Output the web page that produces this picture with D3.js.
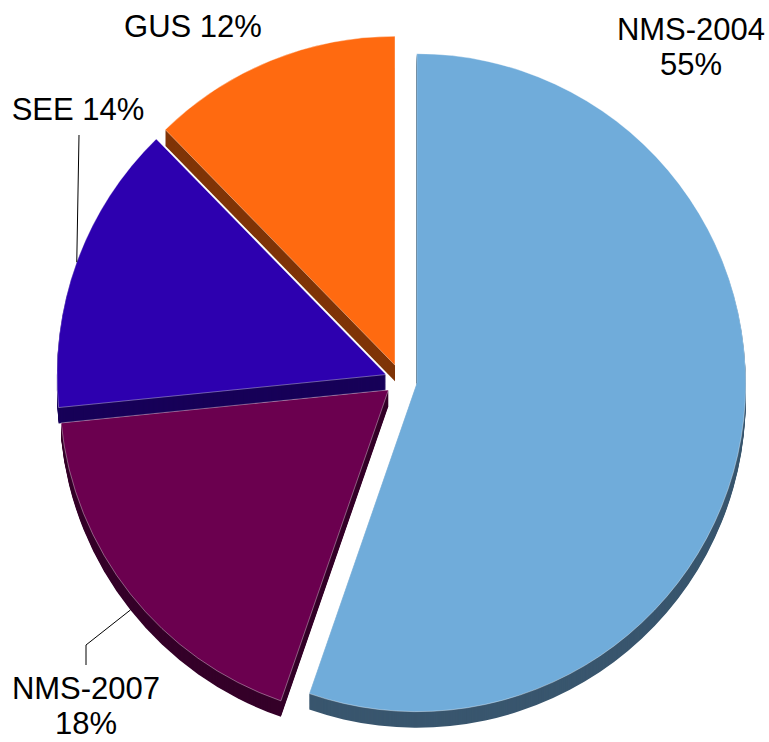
<!DOCTYPE html>
<html>
<head>
<meta charset="utf-8">
<script src="https://cdn.jsdelivr.net/npm/d3@7"></script>
<style>
  body { margin: 0; background: #fff; }
  svg text { font-family: "Liberation Sans", Arial, sans-serif; font-size: 31px; fill: #000; }
</style>
</head>
<body>
<svg id="chart" width="769" height="742"></svg>
<script>
// data (slice order clockwise from 12 o'clock)
var regions = ["NMS-2004", "NMS-2007", "SEE", "GUS"];
var shares = [55.3, 18.1, 14.3, 12.3];
var topColours = ["#70acda", "#6b004f", "#2d00af", "#ff6a10"];
var sideColours = ["#39566e", "#350029", "#170058", "#7f3508"];

var svg = d3.select("#chart");

var cx = 401, cy = 380;
var radius = 329;
var explode = 16;
var depth = 16;

var pie = d3.pie().sort(null).value(function(d) { return d; });
var arcs = pie(shares);

var arc = d3.arc().innerRadius(0).outerRadius(radius);

// offset of each exploded slice along its middle angle
function sliceOffset(a) {
    var mid = (a.startAngle + a.endAngle) / 2;
    return [explode * Math.sin(mid), -explode * Math.cos(mid)];
}

// point on the outer rim at the middle of a slice
function rimPoint(a, extra) {
    var mid = (a.startAngle + a.endAngle) / 2;
    var off = sliceOffset(a);
    return [cx + off[0] + (radius + extra) * Math.sin(mid),
            cy + off[1] - (radius + extra) * Math.cos(mid)];
}

var g = svg.append("g").attr("transform", "translate(" + cx + "," + cy + ")");

// draw back to front: GUS, SEE, NMS-2004, NMS-2007
var drawOrder = [3, 2, 0, 1];
drawOrder.forEach(function(i) {
    var a = arcs[i];
    var off = sliceOffset(a);
    var sg = g.append("g").attr("transform", "translate(" + off[0] + "," + off[1] + ")");
    // extruded side: stack darker copies downwards
    for (var k = depth; k >= 1; k--) {
        sg.append("path")
          .attr("d", arc(a))
          .attr("transform", "translate(0," + k + ")")
          .attr("fill", sideColours[i]);
    }
    sg.append("path")
      .attr("d", arc(a))
      .attr("fill", topColours[i])
      .attr("stroke", "rgba(255,255,255,0.45)")
      .attr("stroke-width", 0.8);
});

// labels
function pct(v) { return Math.round(v) + "%"; }

var labels = [
    { i: 0, x: 691, y: 40, lines: [regions[0], pct(shares[0])] },
    { i: 1, x: 86, y: 699, lines: [regions[1], pct(shares[1])] },
    { i: 2, x: 78, y: 120, lines: [regions[2] + " " + pct(shares[2])] },
    { i: 3, x: 193, y: 37, lines: [regions[3] + " " + pct(shares[3])] }
];

labels.forEach(function(l) {
    var t = svg.append("text")
      .attr("x", l.x)
      .attr("y", l.y)
      .attr("text-anchor", "middle");
    l.lines.forEach(function(s, j) {
        t.append("tspan")
          .attr("x", l.x)
          .attr("dy", j === 0 ? 0 : 35)
          .text(s);
    });
});

// leader lines
var seeAnchor = rimPoint(arcs[2], 0);
svg.append("path")
  .attr("d", "M79,135L" + seeAnchor[0] + "," + seeAnchor[1])
  .attr("fill", "none")
  .attr("stroke", "#000")
  .attr("stroke-width", 1);

var nmsAnchor = rimPoint(arcs[1], 0);
svg.append("path")
  .attr("d", "M86,665L86,645L" + nmsAnchor[0] + "," + (nmsAnchor[1] + depth))
  .attr("fill", "none")
  .attr("stroke", "#000")
  .attr("stroke-width", 1);
</script>
</body>
</html>
